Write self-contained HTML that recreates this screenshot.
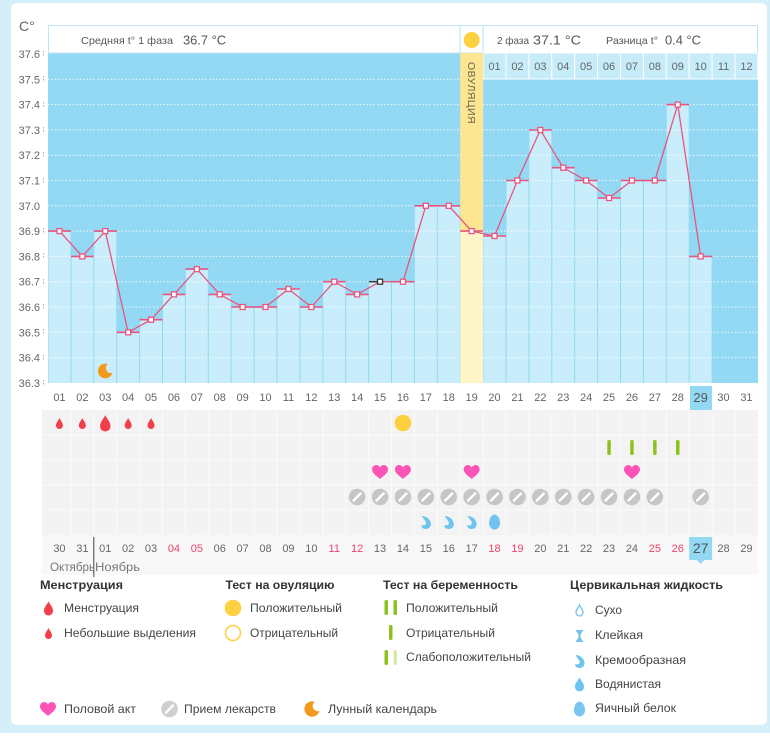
<!DOCTYPE html>
<html><head><meta charset="utf-8"><style>
html,body{margin:0;padding:0;background:#fff;width:770px;height:745px;overflow:hidden}
svg{display:block}
text{font-family:"Liberation Sans","DejaVu Sans",sans-serif}
</style></head><body>
<svg width="770" height="745" viewBox="0 0 770 745" xmlns="http://www.w3.org/2000/svg">
<rect x="0" y="0" width="770" height="745" fill="#fff"/>
<rect x="0" y="0" width="770" height="733" fill="#d4eff9"/>
<rect x="11" y="3" width="756" height="722" rx="6" fill="#fff"/>

<!-- y axis -->
<text x="19" y="31" font-size="14" fill="#666">C°</text>
<g font-size="11" fill="#666" text-anchor="end">
<text x="40" y="58">37.6</text><text x="40" y="83.3">37.5</text><text x="40" y="108.6">37.4</text>
<text x="40" y="133.9">37.3</text><text x="40" y="159.2">37.2</text><text x="40" y="184.5">37.1</text>
<text x="40" y="209.8">37.0</text><text x="40" y="235.1">36.9</text><text x="40" y="260.4">36.8</text>
<text x="40" y="285.7">36.7</text><text x="40" y="311">36.6</text><text x="40" y="336.3">36.5</text>
<text x="40" y="361.6">36.4</text><text x="40" y="386.9">36.3</text>
</g>
<g stroke="#aaa" stroke-width="1" stroke-dasharray="1.5 1.5">
<line x1="43.5" y1="51" x2="43.5" y2="57"/><line x1="43.5" y1="76" x2="43.5" y2="82"/><line x1="43.5" y1="102" x2="43.5" y2="108"/>
<line x1="43.5" y1="127" x2="43.5" y2="133"/><line x1="43.5" y1="152" x2="43.5" y2="158"/><line x1="43.5" y1="178" x2="43.5" y2="184"/>
<line x1="43.5" y1="228" x2="43.5" y2="234"/><line x1="43.5" y1="253" x2="43.5" y2="259"/><line x1="43.5" y1="279" x2="43.5" y2="285"/>
<line x1="43.5" y1="304" x2="43.5" y2="310"/><line x1="43.5" y1="329" x2="43.5" y2="335"/><line x1="43.5" y1="355" x2="43.5" y2="361"/>
<line x1="43.5" y1="380" x2="43.5" y2="386"/>
</g>

<!-- plot background -->
<rect x="48" y="53" width="710" height="330" fill="#93d9f3"/>

<!-- header -->
<rect x="48.5" y="25.5" width="411.7" height="27.5" fill="#fff" stroke="#bfe6f5"/>
<rect x="460.2" y="25.5" width="22.9" height="27.5" fill="#fff" stroke="#bfe6f5"/>
<rect x="483.1" y="25.5" width="274.4" height="27.5" fill="#fff" stroke="#bfe6f5"/>
<text x="81" y="44" font-size="10.5" fill="#555" textLength="92" lengthAdjust="spacingAndGlyphs">Средняя t° 1 фаза</text>
<text x="183" y="44.5" font-size="13" fill="#555" textLength="43" lengthAdjust="spacingAndGlyphs">36.7 °C</text>
<circle cx="471.65" cy="40" r="8" fill="#fdd03f"/>
<text x="497" y="44" font-size="10.5" fill="#555" textLength="32" lengthAdjust="spacingAndGlyphs">2 фаза</text>
<text x="533" y="44.5" font-size="13" fill="#555" textLength="48" lengthAdjust="spacingAndGlyphs">37.1 °C</text>
<text x="606" y="44" font-size="10.5" fill="#555" textLength="52" lengthAdjust="spacingAndGlyphs">Разница t°</text>
<text x="665" y="44.5" font-size="13" fill="#555" textLength="36" lengthAdjust="spacingAndGlyphs">0.4 °C</text>

<!-- right number cells -->
<g fill="#c6ebf9" stroke="#fff" stroke-width="1">
<rect x="483.1" y="53" width="22.9" height="26"/><rect x="506" y="53" width="22.9" height="26"/><rect x="528.9" y="53" width="22.9" height="26"/>
<rect x="551.8" y="53" width="22.9" height="26"/><rect x="574.7" y="53" width="22.9" height="26"/><rect x="597.6" y="53" width="22.9" height="26"/>
<rect x="620.5" y="53" width="22.9" height="26"/><rect x="643.4" y="53" width="22.9" height="26"/><rect x="666.3" y="53" width="22.9" height="26"/>
<rect x="689.2" y="53" width="22.9" height="26"/><rect x="712.1" y="53" width="22.9" height="26"/><rect x="735" y="53" width="22.9" height="26"/>
</g>
<g font-size="11" fill="#666" text-anchor="middle">
<text x="494.55" y="70">01</text><text x="517.45" y="70">02</text><text x="540.35" y="70">03</text><text x="563.25" y="70">04</text>
<text x="586.15" y="70">05</text><text x="609.05" y="70">06</text><text x="631.95" y="70">07</text><text x="654.85" y="70">08</text>
<text x="677.75" y="70">09</text><text x="700.65" y="70">10</text><text x="723.55" y="70">11</text><text x="746.45" y="70">12</text>
</g>

<!-- bars -->
<g fill="#c9edfb">
<rect x="48.5" y="231.1" width="21.9" height="151.9"/>
<rect x="71.4" y="256.4" width="21.9" height="126.6"/>
<rect x="94.3" y="231.1" width="21.9" height="151.9"/>
<rect x="117.2" y="332.3" width="21.9" height="50.7"/>
<rect x="140.1" y="319.7" width="21.9" height="63.3"/>
<rect x="163" y="294.4" width="21.9" height="88.6"/>
<rect x="185.9" y="269.1" width="21.9" height="113.9"/>
<rect x="208.8" y="294.4" width="21.9" height="88.6"/>
<rect x="231.7" y="307" width="21.9" height="76"/>
<rect x="254.6" y="307" width="21.9" height="76"/>
<rect x="277.5" y="289" width="21.9" height="94"/>
<rect x="300.4" y="307" width="21.9" height="76"/>
<rect x="323.3" y="281.7" width="21.9" height="101.3"/>
<rect x="346.2" y="294.4" width="21.9" height="88.6"/>
<rect x="369.1" y="281.7" width="21.9" height="101.3"/>
<rect x="392" y="281.7" width="21.9" height="101.3"/>
<rect x="414.9" y="205.8" width="21.9" height="177.2"/>
<rect x="437.8" y="205.8" width="21.9" height="177.2"/>
<rect x="483.6" y="236" width="21.9" height="147"/>
<rect x="506.5" y="180.5" width="21.9" height="202.5"/>
<rect x="529.4" y="130" width="21.9" height="253"/>
<rect x="552.3" y="167.7" width="21.9" height="215.3"/>
<rect x="575.2" y="180.5" width="21.9" height="202.5"/>
<rect x="598.1" y="198" width="21.9" height="185"/>
<rect x="621" y="180.5" width="21.9" height="202.5"/>
<rect x="643.9" y="180.5" width="21.9" height="202.5"/>
<rect x="666.8" y="104.6" width="21.9" height="278.4"/>
<rect x="689.7" y="256.4" width="21.9" height="126.6"/>
</g>

<!-- ovulation column -->
<rect x="460.2" y="53" width="22.9" height="178" fill="#fce691"/>
<rect x="460.2" y="231.1" width="22.9" height="152" fill="#fef5c8"/>
<text transform="translate(468,62) rotate(90)" font-size="10" fill="#6b6650" letter-spacing="0.4" textLength="62" lengthAdjust="spacingAndGlyphs">ОВУЛЯЦИЯ</text>

<!-- gridlines -->
<g stroke="#fff" stroke-width="1" stroke-dasharray="1.5 2" opacity="0.85">
<line x1="48" y1="79.3" x2="460" y2="79.3"/>
<line x1="48" y1="104.6" x2="460" y2="104.6"/><line x1="483" y1="104.6" x2="758" y2="104.6"/>
<line x1="48" y1="129.9" x2="460" y2="129.9"/><line x1="483" y1="129.9" x2="758" y2="129.9"/>
<line x1="48" y1="155.2" x2="460" y2="155.2"/><line x1="483" y1="155.2" x2="758" y2="155.2"/>
<line x1="48" y1="180.5" x2="460" y2="180.5"/><line x1="483" y1="180.5" x2="758" y2="180.5"/>
<line x1="48" y1="205.8" x2="460" y2="205.8"/><line x1="483" y1="205.8" x2="758" y2="205.8"/>
<line x1="48" y1="231.1" x2="460" y2="231.1"/><line x1="483" y1="231.1" x2="758" y2="231.1"/>
<line x1="48" y1="256.4" x2="460" y2="256.4"/><line x1="483" y1="256.4" x2="758" y2="256.4"/>
<line x1="48" y1="281.7" x2="460" y2="281.7"/><line x1="483" y1="281.7" x2="758" y2="281.7"/>
<line x1="48" y1="307" x2="460" y2="307"/><line x1="483" y1="307" x2="758" y2="307"/>
<line x1="48" y1="332.3" x2="460" y2="332.3"/><line x1="483" y1="332.3" x2="758" y2="332.3"/>
<line x1="48" y1="357.6" x2="460" y2="357.6"/><line x1="483" y1="357.6" x2="758" y2="357.6"/>
</g>

<!-- caps -->
<g stroke="#e8557f" stroke-width="1.6">
<line x1="48" y1="231.1" x2="70.9" y2="231.1"/>
<line x1="70.9" y1="256.4" x2="93.8" y2="256.4"/>
<line x1="93.8" y1="231.1" x2="116.7" y2="231.1"/>
<line x1="116.7" y1="332.3" x2="139.6" y2="332.3"/>
<line x1="139.6" y1="319.7" x2="162.5" y2="319.7"/>
<line x1="162.5" y1="294.4" x2="185.4" y2="294.4"/>
<line x1="185.4" y1="269.1" x2="208.3" y2="269.1"/>
<line x1="208.3" y1="294.4" x2="231.2" y2="294.4"/>
<line x1="231.2" y1="307" x2="254.1" y2="307"/>
<line x1="254.1" y1="307" x2="277" y2="307"/>
<line x1="277" y1="289" x2="299.9" y2="289"/>
<line x1="299.9" y1="307" x2="322.8" y2="307"/>
<line x1="322.8" y1="281.7" x2="345.7" y2="281.7"/>
<line x1="345.7" y1="294.4" x2="368.6" y2="294.4"/>
<line x1="391.5" y1="281.7" x2="414.4" y2="281.7"/>
<line x1="414.4" y1="205.8" x2="437.3" y2="205.8"/>
<line x1="437.3" y1="205.8" x2="460.2" y2="205.8"/>
<line x1="460.2" y1="231.1" x2="483.1" y2="231.1"/>
<line x1="483.1" y1="236" x2="506" y2="236"/>
<line x1="506" y1="180.5" x2="528.9" y2="180.5"/>
<line x1="528.9" y1="130" x2="551.8" y2="130"/>
<line x1="551.8" y1="167.7" x2="574.7" y2="167.7"/>
<line x1="574.7" y1="180.5" x2="597.6" y2="180.5"/>
<line x1="597.6" y1="198" x2="620.5" y2="198"/>
<line x1="620.5" y1="180.5" x2="643.4" y2="180.5"/>
<line x1="643.4" y1="180.5" x2="666.3" y2="180.5"/>
<line x1="666.3" y1="104.6" x2="689.2" y2="104.6"/>
<line x1="689.2" y1="256.4" x2="712.1" y2="256.4"/>
</g>
<line x1="369" y1="281.7" x2="380" y2="281.7" stroke="#333" stroke-width="1.4"/>

<!-- series line -->
<polyline fill="none" stroke="#e8557f" stroke-width="1.3" points="59.45,231.1 82.35,256.4 105.25,231.1 128.15,332.3 151.05,319.7 173.95,294.4 196.85,269.1 219.75,294.4 242.65,307 265.55,307 288.45,289 311.35,307 334.25,281.7 357.15,294.4 380.05,281.7 402.95,281.7 425.85,205.8 448.75,205.8 471.65,231.1 494.55,236 517.45,180.5 540.35,130 563.25,167.7 586.15,180.5 609.05,198 631.95,180.5 654.85,180.5 677.75,104.6 700.65,256.4"/>
<g fill="#fff" stroke="#e8557f" stroke-width="1.3">
<rect x="56.95" y="228.6" width="5" height="5"/><rect x="79.85" y="253.9" width="5" height="5"/><rect x="102.75" y="228.6" width="5" height="5"/>
<rect x="125.65" y="329.8" width="5" height="5"/><rect x="148.55" y="317.2" width="5" height="5"/><rect x="171.45" y="291.9" width="5" height="5"/>
<rect x="194.35" y="266.6" width="5" height="5"/><rect x="217.25" y="291.9" width="5" height="5"/><rect x="240.15" y="304.5" width="5" height="5"/>
<rect x="263.05" y="304.5" width="5" height="5"/><rect x="285.95" y="286.5" width="5" height="5"/><rect x="308.85" y="304.5" width="5" height="5"/>
<rect x="331.75" y="279.2" width="5" height="5"/><rect x="354.65" y="291.9" width="5" height="5"/>
<rect x="400.45" y="279.2" width="5" height="5"/><rect x="423.35" y="203.3" width="5" height="5"/><rect x="446.25" y="203.3" width="5" height="5"/>
<rect x="469.15" y="228.6" width="5" height="5"/><rect x="492.05" y="233.5" width="5" height="5"/><rect x="514.95" y="178" width="5" height="5"/>
<rect x="537.85" y="127.5" width="5" height="5"/><rect x="560.75" y="165.2" width="5" height="5"/><rect x="583.65" y="178" width="5" height="5"/>
<rect x="606.55" y="195.5" width="5" height="5"/><rect x="629.45" y="178" width="5" height="5"/><rect x="652.35" y="178" width="5" height="5"/>
<rect x="675.25" y="102.1" width="5" height="5"/><rect x="698.15" y="253.9" width="5" height="5"/>
</g>
<rect x="377.55" y="279.2" width="5" height="5" fill="#fff" stroke="#333" stroke-width="1.3"/>

<!-- moon in plot -->
<path transform="translate(105.25,371) scale(1.05)" d="M2.4,-6.6 A7,7 0 1 0 6.8,1.8 A4.84,4.84 0 0 1 2.4,-6.6Z" fill="#f39a1e"/>

<!-- x labels row -->
<rect x="690" y="386" width="22" height="24" fill="#93d9f3"/>
<g font-size="11" fill="#666" text-anchor="middle">
<text x="59.45" y="401">01</text><text x="82.35" y="401">02</text><text x="105.25" y="401">03</text><text x="128.15" y="401">04</text>
<text x="151.05" y="401">05</text><text x="173.95" y="401">06</text><text x="196.85" y="401">07</text><text x="219.75" y="401">08</text>
<text x="242.65" y="401">09</text><text x="265.55" y="401">10</text><text x="288.45" y="401">11</text><text x="311.35" y="401">12</text>
<text x="334.25" y="401">13</text><text x="357.15" y="401">14</text><text x="380.05" y="401">15</text><text x="402.95" y="401">16</text>
<text x="425.85" y="401">17</text><text x="448.75" y="401">18</text><text x="471.65" y="401">19</text><text x="494.55" y="401">20</text>
<text x="517.45" y="401">21</text><text x="540.35" y="401">22</text><text x="563.25" y="401">23</text><text x="586.15" y="401">24</text>
<text x="609.05" y="401">25</text><text x="631.95" y="401">26</text><text x="654.85" y="401">27</text><text x="677.75" y="401">28</text>
<text x="700.65" y="402" font-size="13" fill="#555">29</text><text x="723.55" y="401">30</text><text x="746.45" y="401">31</text>
</g>

<!-- icon rows background -->
<rect x="42" y="410" width="716" height="125" fill="#f3f3f3"/>
<rect x="42" y="535" width="716" height="40" fill="#f8f8f8"/>
<g stroke="#fbfbfb" stroke-width="1">
<line x1="42" y1="435" x2="758" y2="435"/><line x1="42" y1="460" x2="758" y2="460"/><line x1="42" y1="485" x2="758" y2="485"/><line x1="42" y1="510" x2="758" y2="510"/>
<line x1="70.9" y1="410" x2="70.9" y2="535"/><line x1="93.8" y1="410" x2="93.8" y2="535"/><line x1="116.7" y1="410" x2="116.7" y2="535"/>
<line x1="139.6" y1="410" x2="139.6" y2="535"/><line x1="162.5" y1="410" x2="162.5" y2="535"/><line x1="185.4" y1="410" x2="185.4" y2="535"/>
<line x1="208.3" y1="410" x2="208.3" y2="535"/><line x1="231.2" y1="410" x2="231.2" y2="535"/><line x1="254.1" y1="410" x2="254.1" y2="535"/>
<line x1="277" y1="410" x2="277" y2="535"/><line x1="299.9" y1="410" x2="299.9" y2="535"/><line x1="322.8" y1="410" x2="322.8" y2="535"/>
<line x1="345.7" y1="410" x2="345.7" y2="535"/><line x1="368.6" y1="410" x2="368.6" y2="535"/><line x1="391.5" y1="410" x2="391.5" y2="535"/>
<line x1="414.4" y1="410" x2="414.4" y2="535"/><line x1="437.3" y1="410" x2="437.3" y2="535"/><line x1="460.2" y1="410" x2="460.2" y2="535"/>
<line x1="483.1" y1="410" x2="483.1" y2="535"/><line x1="506" y1="410" x2="506" y2="535"/><line x1="528.9" y1="410" x2="528.9" y2="535"/>
<line x1="551.8" y1="410" x2="551.8" y2="535"/><line x1="574.7" y1="410" x2="574.7" y2="535"/><line x1="597.6" y1="410" x2="597.6" y2="535"/>
<line x1="620.5" y1="410" x2="620.5" y2="535"/><line x1="643.4" y1="410" x2="643.4" y2="535"/><line x1="666.3" y1="410" x2="666.3" y2="535"/>
<line x1="689.2" y1="410" x2="689.2" y2="535"/><line x1="712.1" y1="410" x2="712.1" y2="535"/><line x1="735" y1="410" x2="735" y2="535"/>
</g>

<!-- row 1: menstruation drops + ovulation test -->
<g fill="#f1404b">
<path transform="translate(59.45,424)" d="M0,-6 C1,-3.5 3.5,-1.5 3.5,1.5 A3.5,3.5 0 0 1 -3.5,1.5 C-3.5,-1.5 -1,-3.5 0,-6Z"/>
<path transform="translate(82.35,424)" d="M0,-6 C1,-3.5 3.5,-1.5 3.5,1.5 A3.5,3.5 0 0 1 -3.5,1.5 C-3.5,-1.5 -1,-3.5 0,-6Z"/>
<path transform="translate(105.25,424) scale(1.5)" d="M0,-6 C1,-3.5 3.5,-1.5 3.5,1.5 A3.5,3.5 0 0 1 -3.5,1.5 C-3.5,-1.5 -1,-3.5 0,-6Z"/>
<path transform="translate(128.15,424)" d="M0,-6 C1,-3.5 3.5,-1.5 3.5,1.5 A3.5,3.5 0 0 1 -3.5,1.5 C-3.5,-1.5 -1,-3.5 0,-6Z"/>
<path transform="translate(151.05,424)" d="M0,-6 C1,-3.5 3.5,-1.5 3.5,1.5 A3.5,3.5 0 0 1 -3.5,1.5 C-3.5,-1.5 -1,-3.5 0,-6Z"/>
</g>
<circle cx="402.95" cy="423" r="8.3" fill="#fdd03f"/>

<!-- row 2: pregnancy tests -->
<g fill="#8cc21f">
<rect x="607.3" y="440" width="3.5" height="15" rx="1.5"/><rect x="630.2" y="440" width="3.5" height="15" rx="1.5"/>
<rect x="653.1" y="440" width="3.5" height="15" rx="1.5"/><rect x="676" y="440" width="3.5" height="15" rx="1.5"/>
</g>

<!-- row 3: hearts -->
<g fill="#fb53b6">
<path transform="translate(380.05,472)" d="M0,7 C-2,5 -8,1.5 -8,-2.5 C-8,-5.5 -5.5,-7 -3.8,-7 C-2,-7 -0.8,-5.8 0,-4.5 C0.8,-5.8 2,-7 3.8,-7 C5.5,-7 8,-5.5 8,-2.5 C8,1.5 2,5 0,7Z"/>
<path transform="translate(402.95,472)" d="M0,7 C-2,5 -8,1.5 -8,-2.5 C-8,-5.5 -5.5,-7 -3.8,-7 C-2,-7 -0.8,-5.8 0,-4.5 C0.8,-5.8 2,-7 3.8,-7 C5.5,-7 8,-5.5 8,-2.5 C8,1.5 2,5 0,7Z"/>
<path transform="translate(471.65,472)" d="M0,7 C-2,5 -8,1.5 -8,-2.5 C-8,-5.5 -5.5,-7 -3.8,-7 C-2,-7 -0.8,-5.8 0,-4.5 C0.8,-5.8 2,-7 3.8,-7 C5.5,-7 8,-5.5 8,-2.5 C8,1.5 2,5 0,7Z"/>
<path transform="translate(631.95,472)" d="M0,7 C-2,5 -8,1.5 -8,-2.5 C-8,-5.5 -5.5,-7 -3.8,-7 C-2,-7 -0.8,-5.8 0,-4.5 C0.8,-5.8 2,-7 3.8,-7 C5.5,-7 8,-5.5 8,-2.5 C8,1.5 2,5 0,7Z"/>
</g>

<!-- row 4: pills -->
<g fill="#c6c6c6">
<circle cx="357.15" cy="497" r="8.3"/><circle cx="380.05" cy="497" r="8.3"/><circle cx="402.95" cy="497" r="8.3"/>
<circle cx="425.85" cy="497" r="8.3"/><circle cx="448.75" cy="497" r="8.3"/><circle cx="471.65" cy="497" r="8.3"/>
<circle cx="494.55" cy="497" r="8.3"/><circle cx="517.45" cy="497" r="8.3"/><circle cx="540.35" cy="497" r="8.3"/>
<circle cx="563.25" cy="497" r="8.3"/><circle cx="586.15" cy="497" r="8.3"/><circle cx="609.05" cy="497" r="8.3"/>
<circle cx="631.95" cy="497" r="8.3"/><circle cx="654.85" cy="497" r="8.3"/><circle cx="700.65" cy="497" r="8.3"/>
</g>
<g stroke="#fff" stroke-width="2.4" stroke-linecap="round">
<line x1="353.65" y1="500.5" x2="360.65" y2="493.5"/><line x1="376.55" y1="500.5" x2="383.55" y2="493.5"/><line x1="399.45" y1="500.5" x2="406.45" y2="493.5"/>
<line x1="422.35" y1="500.5" x2="429.35" y2="493.5"/><line x1="445.25" y1="500.5" x2="452.25" y2="493.5"/><line x1="468.15" y1="500.5" x2="475.15" y2="493.5"/>
<line x1="491.05" y1="500.5" x2="498.05" y2="493.5"/><line x1="513.95" y1="500.5" x2="520.95" y2="493.5"/><line x1="536.85" y1="500.5" x2="543.85" y2="493.5"/>
<line x1="559.75" y1="500.5" x2="566.75" y2="493.5"/><line x1="582.65" y1="500.5" x2="589.65" y2="493.5"/><line x1="605.55" y1="500.5" x2="612.55" y2="493.5"/>
<line x1="628.45" y1="500.5" x2="635.45" y2="493.5"/><line x1="651.35" y1="500.5" x2="658.35" y2="493.5"/><line x1="697.15" y1="500.5" x2="704.15" y2="493.5"/>
</g>

<!-- row 5: cervical fluid -->
<g fill="#6ec3f0">
<path transform="translate(425.85,522)" d="M-4,-6 C1,-6 5,-2 5,2 C5,5 3,7 0,7 C-3,7 -5,5 -4,3 C-2,4 1,3 0,0 C-1,-2 -3,-4 -4,-6Z"/>
<path transform="translate(448.75,522)" d="M-4,-6 C1,-6 5,-2 5,2 C5,5 3,7 0,7 C-3,7 -5,5 -4,3 C-2,4 1,3 0,0 C-1,-2 -3,-4 -4,-6Z"/>
<path transform="translate(471.65,522)" d="M-4,-6 C1,-6 5,-2 5,2 C5,5 3,7 0,7 C-3,7 -5,5 -4,3 C-2,4 1,3 0,0 C-1,-2 -3,-4 -4,-6Z"/>
<path transform="translate(494.55,522)" d="M0,-7.5 C3,-7.5 5.5,-3 5.5,1 C5.5,4.8 3,7.5 0,7.5 C-3,7.5 -5.5,4.8 -5.5,1 C-5.5,-3 -3,-7.5 0,-7.5Z"/>
</g>

<!-- bottom date row -->
<rect x="689.2" y="537" width="22.9" height="23" fill="#93d9f3"/>
<path d="M696.6,560 L700.6,564 L704.6,560Z" fill="#93d9f3"/>
<g font-size="11" fill="#666" text-anchor="middle">
<text x="59.45" y="552">30</text><text x="82.35" y="552">31</text><text x="105.25" y="552">01</text><text x="128.15" y="552">02</text>
<text x="151.05" y="552">03</text><text x="173.95" y="552" fill="#f0406a">04</text><text x="196.85" y="552" fill="#f0406a">05</text><text x="219.75" y="552">06</text>
<text x="242.65" y="552">07</text><text x="265.55" y="552">08</text><text x="288.45" y="552">09</text><text x="311.35" y="552">10</text>
<text x="334.25" y="552" fill="#f0406a">11</text><text x="357.15" y="552" fill="#f0406a">12</text><text x="380.05" y="552">13</text><text x="402.95" y="552">14</text>
<text x="425.85" y="552">15</text><text x="448.75" y="552">16</text><text x="471.65" y="552">17</text><text x="494.55" y="552" fill="#f0406a">18</text>
<text x="517.45" y="552" fill="#f0406a">19</text><text x="540.35" y="552">20</text><text x="563.25" y="552">21</text><text x="586.15" y="552">22</text>
<text x="609.05" y="552">23</text><text x="631.95" y="552">24</text><text x="654.85" y="552" fill="#f0406a">25</text><text x="677.75" y="552" fill="#f0406a">26</text>
<text x="700.65" y="553" font-size="14" fill="#555">27</text><text x="723.55" y="552">28</text><text x="746.45" y="552">29</text>
</g>
<line x1="93.8" y1="537" x2="93.8" y2="577" stroke="#444" stroke-width="1"/>
<text x="95" y="571" font-size="12" fill="#777" text-anchor="end" textLength="45" lengthAdjust="spacingAndGlyphs">Октябрь</text>
<text x="95" y="571" font-size="12" fill="#777" textLength="45" lengthAdjust="spacingAndGlyphs">Ноябрь</text>

<!-- legend headings -->
<g font-size="12" font-weight="bold" fill="#333">
<text x="40" y="589" textLength="83" lengthAdjust="spacingAndGlyphs">Менструация</text>
<text x="225.5" y="589" textLength="109" lengthAdjust="spacingAndGlyphs">Тест на овуляцию</text>
<text x="383" y="589" textLength="135" lengthAdjust="spacingAndGlyphs">Тест на беременность</text>
<text x="570" y="589" textLength="153" lengthAdjust="spacingAndGlyphs">Цервикальная жидкость</text>
</g>

<!-- legend items -->
<g font-size="12" fill="#444">
<text x="64" y="612" textLength="75" lengthAdjust="spacingAndGlyphs">Менструация</text>
<text x="64" y="637" textLength="132" lengthAdjust="spacingAndGlyphs">Небольшие выделения</text>
<text x="250" y="612" textLength="92" lengthAdjust="spacingAndGlyphs">Положительный</text>
<text x="250" y="637" textLength="88" lengthAdjust="spacingAndGlyphs">Отрицательный</text>
<text x="406" y="612" textLength="92" lengthAdjust="spacingAndGlyphs">Положительный</text>
<text x="406" y="637" textLength="89" lengthAdjust="spacingAndGlyphs">Отрицательный</text>
<text x="406" y="661" textLength="125" lengthAdjust="spacingAndGlyphs">Слабоположительный</text>
<text x="595" y="614" textLength="27" lengthAdjust="spacingAndGlyphs">Сухо</text>
<text x="595" y="639" textLength="48" lengthAdjust="spacingAndGlyphs">Клейкая</text>
<text x="595" y="664" textLength="91" lengthAdjust="spacingAndGlyphs">Кремообразная</text>
<text x="595" y="688" textLength="66" lengthAdjust="spacingAndGlyphs">Водянистая</text>
<text x="595" y="712" textLength="81" lengthAdjust="spacingAndGlyphs">Яичный белок</text>
<text x="64" y="713" textLength="72" lengthAdjust="spacingAndGlyphs">Половой акт</text>
<text x="184" y="713" textLength="92" lengthAdjust="spacingAndGlyphs">Прием лекарств</text>
<text x="328" y="713" textLength="109" lengthAdjust="spacingAndGlyphs">Лунный календарь</text>
</g>

<!-- legend icons -->
<path transform="translate(48.5,609) scale(1.3)" d="M0,-6 C1,-3.5 3.5,-1.5 3.5,1.5 A3.5,3.5 0 0 1 -3.5,1.5 C-3.5,-1.5 -1,-3.5 0,-6Z" fill="#f1404b"/>
<path transform="translate(48.5,634)" d="M0,-6 C1,-3.5 3.5,-1.5 3.5,1.5 A3.5,3.5 0 0 1 -3.5,1.5 C-3.5,-1.5 -1,-3.5 0,-6Z" fill="#f1404b"/>
<circle cx="233" cy="608" r="8.3" fill="#fdd03f"/>
<circle cx="233" cy="633" r="7.5" fill="#fff" stroke="#fdd03f" stroke-width="1.5"/>
<rect x="384.5" y="600" width="3.5" height="15" rx="1.5" fill="#8cc21f"/>
<rect x="393.5" y="600" width="3.5" height="15" rx="1.5" fill="#8cc21f"/>
<rect x="389" y="625" width="3.5" height="15" rx="1.5" fill="#8cc21f"/>
<rect x="384.5" y="650" width="3.5" height="15" rx="1.5" fill="#8cc21f"/>
<rect x="393.5" y="650" width="3.5" height="15" rx="1.5" fill="#d6e9a8"/>
<path transform="translate(579.5,611)" d="M0,-6 C1,-3.5 3.5,-1.5 3.5,1.5 A3.5,3.5 0 0 1 -3.5,1.5 C-3.5,-1.5 -1,-3.5 0,-6Z" fill="#fff" stroke="#6ec3f0" stroke-width="1.3"/>
<path transform="translate(579.5,636)" d="M-4,-6 H4 L1,-1.5 V1.5 L4,6 H-4 L-1,1.5 V-1.5 Z" fill="#6ec3f0"/>
<path transform="translate(579.5,661)" d="M-4,-6 C1,-6 5,-2 5,2 C5,5 3,7 0,7 C-3,7 -5,5 -4,3 C-2,4 1,3 0,0 C-1,-2 -3,-4 -4,-6Z" fill="#6ec3f0"/>
<path transform="translate(579.5,685) scale(1.3)" d="M0,-6 C1,-3.5 3.5,-1.5 3.5,1.5 A3.5,3.5 0 0 1 -3.5,1.5 C-3.5,-1.5 -1,-3.5 0,-6Z" fill="#6ec3f0"/>
<path transform="translate(579.5,709)" d="M0,-7.5 C3,-7.5 5.5,-3 5.5,1 C5.5,4.8 3,7.5 0,7.5 C-3,7.5 -5.5,4.8 -5.5,1 C-5.5,-3 -3,-7.5 0,-7.5Z" fill="#79c6f1"/>
<path transform="translate(48,709)" d="M0,7 C-2,5 -8,1.5 -8,-2.5 C-8,-5.5 -5.5,-7 -3.8,-7 C-2,-7 -0.8,-5.8 0,-4.5 C0.8,-5.8 2,-7 3.8,-7 C5.5,-7 8,-5.5 8,-2.5 C8,1.5 2,5 0,7Z" fill="#fb53b6"/>
<circle cx="169.5" cy="709" r="8.3" fill="#cfcfcf"/>
<line x1="166" y1="712.5" x2="173" y2="705.5" stroke="#fff" stroke-width="2.4" stroke-linecap="round"/>
<path transform="translate(312,709) scale(1.1)" d="M2.4,-6.6 A7,7 0 1 0 6.8,1.8 A4.84,4.84 0 0 1 2.4,-6.6Z" fill="#f39a1e"/>
</svg>
</body></html>
